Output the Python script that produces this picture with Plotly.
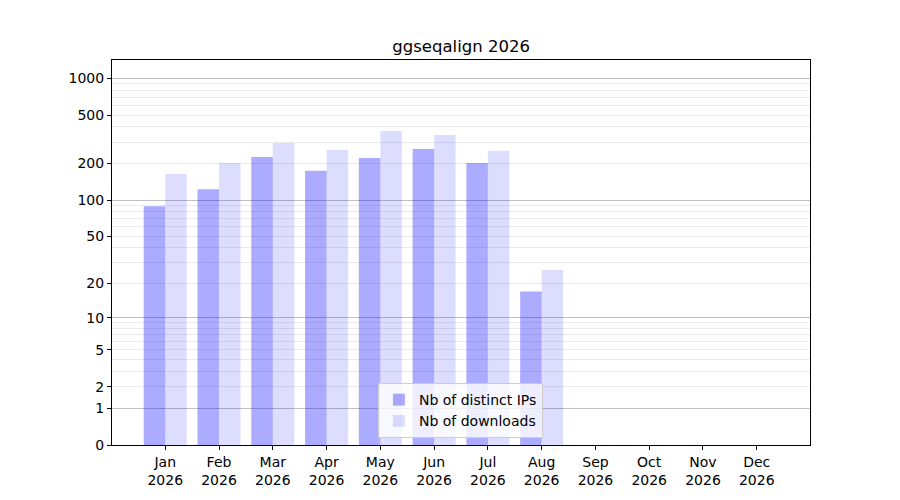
import numpy as np
import plotly.graph_objects as go

months = ["Jan", "Feb", "Mar", "Apr", "May", "Jun", "Jul", "Aug", "Sep", "Oct", "Nov", "Dec"]
year = "2026"
distinct_ips = [89, 123, 226, 174, 222, 263, 202, 17, 0, 0, 0, 0]
downloads = [164, 202, 295, 258, 370, 343, 254, 26, 0, 0, 0, 0]

tick_values = [0, 1, 2, 5, 10, 20, 50, 100, 200, 500, 1000]
major_grid = [1, 10, 100, 1000]
minor_grid = [m * d for d in (1, 10, 100) for m in range(2, 10)]


# y axis is log10(x + 1), same as the original function scale
def fscale(v):
    return np.log10(np.asarray(v, dtype=float) + 1)


x = list(range(len(months)))

fig = go.Figure()
fig.add_trace(go.Bar(
    x=x, y=fscale(distinct_ips), width=0.4, offset=-0.4,
    name="Nb of distinct IPs",
    marker=dict(color="rgba(0,0,255,0.33)", line=dict(width=0)),
))
fig.add_trace(go.Bar(
    x=x, y=fscale(downloads), width=0.4, offset=0,
    name="Nb of downloads",
    marker=dict(color="rgba(0,0,255,0.133)", line=dict(width=0)),
))

#dummy trace on a second axis, just for the darker major gridlines
fig.add_trace(go.Scatter(x=[None], y=[None], yaxis="y2", showlegend=False, hoverinfo="skip"))

#page body has an 8px margin, so the figure is a bit smaller than the window
fig.update_layout(
    width=892, height=492,
    margin=dict(l=104, r=90, t=52, b=55),
    paper_bgcolor="white", plot_bgcolor="white",
    font=dict(family="DejaVu Sans", size=14, color="black"),
    title=dict(text="ggseqalign " + year, x=0.508, xanchor="center", y=0.9228, yanchor="middle",
               font=dict(size=16.5)),
    barmode="overlay",
    showlegend=True,
    legend=dict(x=0.381, y=0.018, xanchor="left", yanchor="bottom",
                bgcolor="rgba(255,255,255,0.8)", bordercolor="#cccccc", borderwidth=1,
                font=dict(size=14), itemwidth=30),
    xaxis=dict(
        range=[-0.99, 11.99], tickmode="array", tickvals=x,
        ticktext=[m + "<br>" + year for m in months],
        showgrid=False, zeroline=False,
        showline=True, linecolor="black", linewidth=1, mirror=True,
        ticks="outside", ticklen=4, tickwidth=1, tickcolor="black",
    ),
    yaxis=dict(
        range=[0, 3.15], tickmode="array", tickvals=fscale(tick_values),
        ticktext=[str(t) for t in tick_values],
        showgrid=False, zeroline=False,
        showline=True, linecolor="black", linewidth=1, mirror=True,
        ticks="outside", ticklen=4, tickwidth=1, tickcolor="black",
        minor=dict(tickmode="array", tickvals=fscale(minor_grid), showgrid=True,
                   gridcolor="#ebebeb", gridwidth=1, ticklen=0),
    ),
    yaxis2=dict(
        range=[0, 3.15], overlaying="y", side="left", tickmode="array",
        tickvals=fscale(major_grid), showticklabels=False, ticks="",
        showgrid=True, gridcolor="#c0c0c0", gridwidth=1, zeroline=False, showline=False,
    ),
)

fig.write_html("out.html")
